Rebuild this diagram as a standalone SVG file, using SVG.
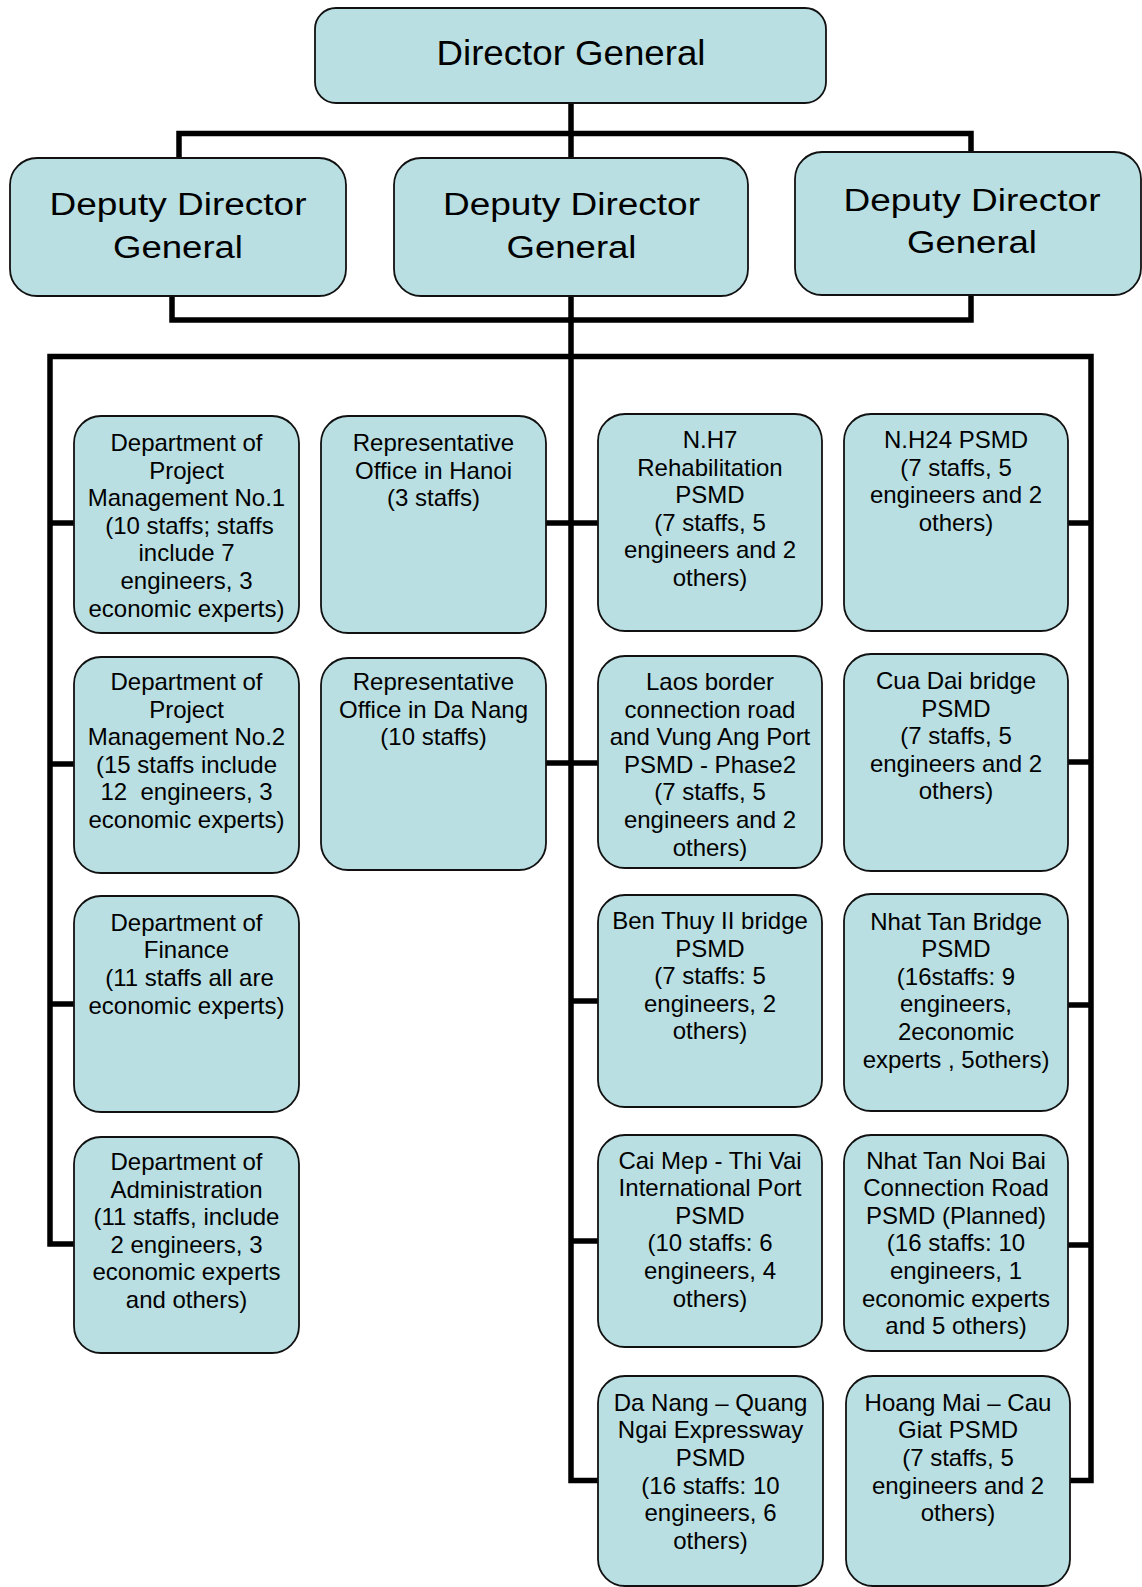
<svg xmlns="http://www.w3.org/2000/svg" width="1142" height="1587" viewBox="0 0 1142 1587">
<style>
.box{fill:#B9DFE2;stroke:#111;stroke-width:1.8}
.c{fill:none;stroke:#000;stroke-width:5.5;stroke-linejoin:miter}
text{font-family:"Liberation Sans",Arial,sans-serif;fill:#000;text-anchor:middle}
.s{font-size:24px}
.d{font-size:31px}
.t{font-size:35px}
</style>
<rect width="1142" height="1587" fill="#fff"/>
<g id="connectors">
<path class="c" d="M571,103 V1480.5 H598"/>
<path class="c" d="M179,158 V133.5 H971 V152"/>
<path class="c" d="M172,296 V320 H971 V296"/>
<path class="c" d="M74,1244 H50 V356.5 H1091 V1480.5 H1068"/>
<path class="c" d="M50,523 H74 M50,764 H74 M50,1004 H74"/>
<path class="c" d="M546,523 H598 M546,763 H598 M571,1001 H598 M571,1241 H598"/>
<path class="c" d="M1068,523 H1091 M1068,762 H1091 M1068,1005 H1091 M1068,1245 H1091"/>
</g>
<g id="director-general">
<rect class="box" x="315" y="8" width="511" height="95" rx="21"/>
<text class="t" x="571" y="64.5" textLength="269" lengthAdjust="spacingAndGlyphs">Director General</text>
</g>
<g id="deputy-left">
<rect class="box" x="10" y="158" width="336" height="138" rx="27"/>
<text class="d" x="178" y="215" textLength="257" lengthAdjust="spacingAndGlyphs">Deputy Director</text>
<text class="d" x="178" y="258.3" textLength="130" lengthAdjust="spacingAndGlyphs">General</text>
</g>
<g id="deputy-middle">
<rect class="box" x="394" y="158" width="354" height="138" rx="27"/>
<text class="d" x="571.5" y="215" textLength="257" lengthAdjust="spacingAndGlyphs">Deputy Director</text>
<text class="d" x="571.5" y="258.3" textLength="130" lengthAdjust="spacingAndGlyphs">General</text>
</g>
<g id="deputy-right">
<rect class="box" x="795" y="152" width="346" height="143" rx="27"/>
<text class="d" x="972" y="210.7" textLength="257" lengthAdjust="spacingAndGlyphs">Deputy Director</text>
<text class="d" x="972" y="253.3" textLength="130" lengthAdjust="spacingAndGlyphs">General</text>
</g>
<g id="dept-pm1">
<rect class="box" x="74" y="416" width="225" height="217" rx="27"/>
<text class="s" x="186.5" y="451">Department of<tspan x="186.5" dy="27.6">Project</tspan><tspan x="186.5" dy="27.6">Management No.1</tspan><tspan x="189.5" dy="27.6">(10 staffs; staffs</tspan><tspan x="186.5" dy="27.6">include 7</tspan><tspan x="186.5" dy="27.6">engineers, 3</tspan><tspan x="186.5" dy="27.6">economic experts)</tspan></text>
</g>
<g id="dept-pm2">
<rect class="box" x="74" y="657" width="225" height="216" rx="27"/>
<text class="s" x="186.5" y="690" style="white-space:pre">Department of<tspan x="186.5" dy="27.6">Project</tspan><tspan x="186.5" dy="27.6">Management No.2</tspan><tspan x="186.5" dy="27.6">(15 staffs include</tspan><tspan x="186.5" dy="27.6">12  engineers, 3</tspan><tspan x="186.5" dy="27.6">economic experts)</tspan></text>
</g>
<g id="dept-finance">
<rect class="box" x="74" y="896" width="225" height="216" rx="27"/>
<text class="s" x="186.5" y="930.7">Department of<tspan x="186.5" dy="27.6">Finance</tspan><tspan x="189.5" dy="27.6">(11 staffs all are</tspan><tspan x="186.5" dy="27.6">economic experts)</tspan></text>
</g>
<g id="dept-admin">
<rect class="box" x="74" y="1137" width="225" height="216" rx="27"/>
<text class="s" x="186.5" y="1170">Department of<tspan x="186.5" dy="27.6">Administration</tspan><tspan x="186.5" dy="27.6">(11 staffs, include</tspan><tspan x="186.5" dy="27.6">2 engineers, 3</tspan><tspan x="186.5" dy="27.6">economic experts</tspan><tspan x="186.5" dy="27.6">and others)</tspan></text>
</g>
<g id="rep-hanoi">
<rect class="box" x="321" y="416" width="225" height="217" rx="27"/>
<text class="s" x="433.5" y="451">Representative<tspan x="433.5" dy="27.6">Office in Hanoi</tspan><tspan x="433.5" dy="27.6">(3 staffs)</tspan></text>
</g>
<g id="rep-danang">
<rect class="box" x="321" y="658" width="225" height="212" rx="27"/>
<text class="s" x="433.5" y="690">Representative<tspan x="433.5" dy="27.6">Office in Da Nang</tspan><tspan x="433.5" dy="27.6">(10 staffs)</tspan></text>
</g>
<g id="psmd-nh7">
<rect class="box" x="598" y="414" width="224" height="217" rx="27"/>
<text class="s" x="710" y="448">N.H7<tspan x="710" dy="27.6">Rehabilitation</tspan><tspan x="710" dy="27.6">PSMD</tspan><tspan x="710" dy="27.6">(7 staffs, 5</tspan><tspan x="710" dy="27.6">engineers and 2</tspan><tspan x="710" dy="27.6">others)</tspan></text>
</g>
<g id="psmd-nh24">
<rect class="box" x="844" y="414" width="224" height="217" rx="27"/>
<text class="s" x="956" y="448">N.H24 PSMD<tspan x="956" dy="27.6">(7 staffs, 5</tspan><tspan x="956" dy="27.6">engineers and 2</tspan><tspan x="956" dy="27.6">others)</tspan></text>
</g>
<g id="psmd-laos">
<rect class="box" x="598" y="656" width="224" height="212" rx="27"/>
<text class="s" x="710" y="690">Laos border<tspan x="710" dy="27.6">connection road</tspan><tspan x="710" dy="27.6">and Vung Ang Port</tspan><tspan x="710" dy="27.6">PSMD - Phase2</tspan><tspan x="710" dy="27.6">(7 staffs, 5</tspan><tspan x="710" dy="27.6">engineers and 2</tspan><tspan x="710" dy="27.6">others)</tspan></text>
</g>
<g id="psmd-cuadai">
<rect class="box" x="844" y="654" width="224" height="217" rx="27"/>
<text class="s" x="956" y="689">Cua Dai bridge<tspan x="956" dy="27.6">PSMD</tspan><tspan x="956" dy="27.6">(7 staffs, 5</tspan><tspan x="956" dy="27.6">engineers and 2</tspan><tspan x="956" dy="27.6">others)</tspan></text>
</g>
<g id="psmd-benthuy">
<rect class="box" x="598" y="895" width="224" height="212" rx="27"/>
<text class="s" x="710" y="929">Ben Thuy II bridge<tspan x="710" dy="27.6">PSMD</tspan><tspan x="710" dy="27.6">(7 staffs: 5</tspan><tspan x="710" dy="27.6">engineers, 2</tspan><tspan x="710" dy="27.6">others)</tspan></text>
</g>
<g id="psmd-nhattan">
<rect class="box" x="844" y="894" width="224" height="217" rx="27"/>
<text class="s" x="956" y="929.5">Nhat Tan Bridge<tspan x="956" dy="27.6">PSMD</tspan><tspan x="956" dy="27.6">(16staffs: 9</tspan><tspan x="956" dy="27.6">engineers,</tspan><tspan x="956" dy="27.6">2economic</tspan><tspan x="956" dy="27.6">experts , 5others)</tspan></text>
</g>
<g id="psmd-caimep">
<rect class="box" x="598" y="1135" width="224" height="212" rx="27"/>
<text class="s" x="710" y="1168.5">Cai Mep - Thi Vai<tspan x="710" dy="27.6">International Port</tspan><tspan x="710" dy="27.6">PSMD</tspan><tspan x="710" dy="27.6">(10 staffs: 6</tspan><tspan x="710" dy="27.6">engineers, 4</tspan><tspan x="710" dy="27.6">others)</tspan></text>
</g>
<g id="psmd-nhattan-noibai">
<rect class="box" x="844" y="1135" width="224" height="216" rx="27"/>
<text class="s" x="956" y="1168.5">Nhat Tan Noi Bai<tspan x="956" dy="27.6">Connection Road</tspan><tspan x="956" dy="27.6">PSMD (Planned)</tspan><tspan x="956" dy="27.6">(16 staffs: 10</tspan><tspan x="956" dy="27.6">engineers, 1</tspan><tspan x="956" dy="27.6">economic experts</tspan><tspan x="956" dy="27.6">and 5 others)</tspan></text>
</g>
<g id="psmd-danang-quangngai">
<rect class="box" x="598" y="1376" width="225" height="210" rx="27"/>
<text class="s" x="710.5" y="1410.7">Da Nang – Quang<tspan x="710.5" dy="27.6">Ngai Expressway</tspan><tspan x="710.5" dy="27.6">PSMD</tspan><tspan x="710.5" dy="27.6">(16 staffs: 10</tspan><tspan x="710.5" dy="27.6">engineers, 6</tspan><tspan x="710.5" dy="27.6">others)</tspan></text>
</g>
<g id="psmd-hoangmai">
<rect class="box" x="846" y="1376" width="224" height="210" rx="27"/>
<text class="s" x="958" y="1410.7">Hoang Mai – Cau<tspan x="958" dy="27.6">Giat PSMD</tspan><tspan x="958" dy="27.6">(7 staffs, 5</tspan><tspan x="958" dy="27.6">engineers and 2</tspan><tspan x="958" dy="27.6">others)</tspan></text>
</g>
</svg>
